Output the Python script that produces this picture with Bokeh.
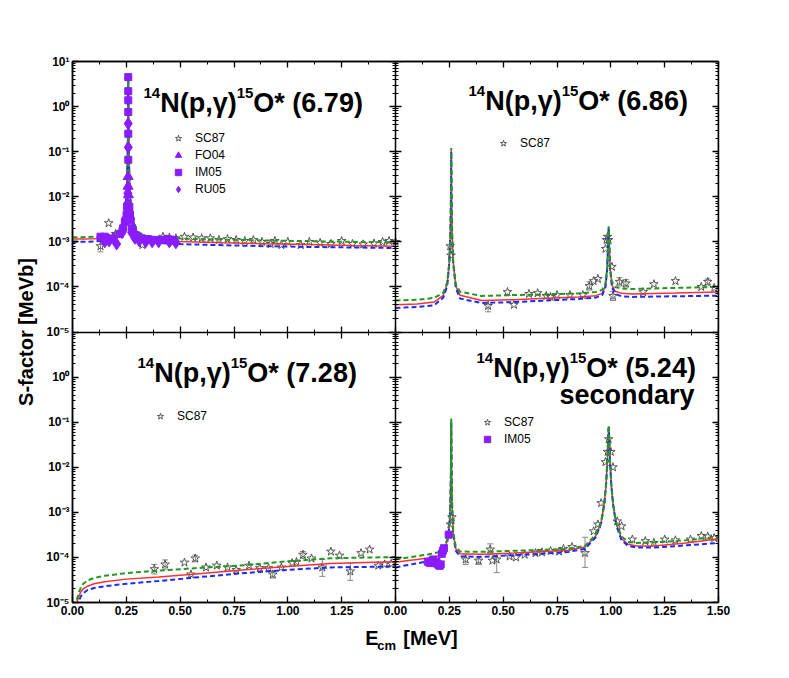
from bokeh.plotting import figure
from bokeh.layouts import column
from bokeh.models import (Range1d, LogScale, LogAxis, LinearAxis, FixedTicker,
                          CustomJSTickFormatter, Label, Legend, LegendItem)
from bokeh.core.properties import value
from bokeh.embed import file_html
from bokeh.resources import INLINE

# ---------------- data ----------------
# Panel A: 14N(p,g)15O* (6.79)
A_E = [0.00, 0.05, 0.10, 0.15, 0.19, 0.21, 0.225, 0.235, 0.243, 0.249, 0.253, 0.2555, 0.2572,
       0.2582, 0.2588, 0.2592, 0.2598, 0.2608, 0.2625, 0.265, 0.269, 0.275, 0.283, 0.295, 0.31,
       0.34, 0.40, 0.50, 0.70, 0.90, 1.10, 1.30, 1.50]
A_red = [1.15e-3, 1.15e-3, 1.17e-3, 1.22e-3, 1.4e-3, 1.65e-3, 2.1e-3, 2.9e-3, 4.6e-3, 9e-3, 2.2e-2,
         6e-2, 0.25, 1.2, 4.8, 4.8, 1.2, 0.25, 6e-2, 2.2e-2, 9e-3, 4.6e-3, 2.8e-3, 1.9e-3, 1.45e-3,
         1.2e-3, 1.08e-3, 1.02e-3, 9.6e-4, 9.1e-4, 8.7e-4, 8.3e-4, 8.0e-4]
A_green = [1.27e-3, 1.27e-3, 1.29e-3, 1.34e-3, 1.52e-3, 1.77e-3, 2.2e-3, 3.0e-3, 4.7e-3, 9.1e-3, 2.2e-2,
           6e-2, 0.25, 1.2, 4.8, 4.8, 1.2, 0.25, 6e-2, 2.2e-2, 9.1e-3, 4.7e-3, 2.95e-3, 2.05e-3, 1.6e-3,
           1.36e-3, 1.24e-3, 1.18e-3, 1.12e-3, 1.07e-3, 1.03e-3, 1.0e-3, 9.8e-4]
A_blue = [1.0e-3, 1.0e-3, 1.02e-3, 1.07e-3, 1.25e-3, 1.5e-3, 1.95e-3, 2.75e-3, 4.4e-3, 8.8e-3, 2.1e-2,
          6e-2, 0.25, 1.2, 4.6, 4.6, 1.2, 0.25, 6e-2, 2.1e-2, 8.8e-3, 4.4e-3, 2.6e-3, 1.75e-3, 1.3e-3,
          1.05e-3, 9.4e-4, 8.9e-4, 8.4e-4, 8.0e-4, 7.7e-4, 7.5e-4, 7.3e-4]
A_sc_e = [0.13, 0.168, 0.20, 0.265, 0.27, 0.28, 0.325, 0.42, 0.45, 0.48, 0.52, 0.56, 0.60, 0.64, 0.68,
          0.72, 0.76, 0.80, 0.84, 0.88, 0.92, 0.94, 0.97, 1.00, 1.06, 1.10, 1.15, 1.20, 1.25, 1.30,
          1.35, 1.40, 1.44, 1.47, 1.50]
A_sc_s = [8e-4, 2.6e-3, 1.5e-3, 4.4e-3, 3e-3, 2e-3, 8.5e-4, 1.3e-3, 1.25e-3, 1.2e-3, 1.3e-3, 1.25e-3,
          1.2e-3, 1.2e-3, 1.1e-3, 1.15e-3, 1.1e-3, 1.05e-3, 1.1e-3, 1.0e-3, 9e-4, 1.05e-3, 8.5e-4,
          1.0e-3, 8.5e-4, 1.0e-3, 9.5e-4, 9e-4, 1.05e-3, 9e-4, 8.8e-4, 9.2e-4, 1.0e-3, 1.05e-3, 1.0e-3]
A_err_e = [0.13]
A_err_lo = [6e-4]
A_err_hi = [1.05e-3]
A_im_e = [0.13, 0.14, 0.15, 0.16, 0.22, 0.235, 0.243, 0.248, 0.251, 0.2535, 0.2589, 0.2589, 0.2590,
          0.2590, 0.2591, 0.2591, 0.264, 0.267, 0.270, 0.275, 0.280, 0.290, 0.300, 0.320, 0.350,
          0.380, 0.410, 0.440, 0.470]
A_im_s = [1.3e-3, 1.25e-3, 1.3e-3, 1.2e-3, 1.5e-3, 2.0e-3, 2.8e-3, 3.0e-3, 4.0e-3, 6.0e-3, 4.5, 2.2,
          1.38, 0.76, 0.25, 0.066, 6.0e-3, 4.0e-3, 3.0e-3, 2.0e-3, 1.7e-3, 1.4e-3, 1.3e-3, 1.2e-3,
          1.15e-3, 1.1e-3, 1.1e-3, 1.15e-3, 1.1e-3]
A_ru_e = [0.15, 0.17, 0.19, 0.205, 0.23, 0.256, 0.257, 0.2589, 0.2591, 0.275, 0.29, 0.31, 0.34, 0.37,
          0.40, 0.45, 0.48]
A_ru_s = [1.0e-3, 1.05e-3, 1.2e-3, 9e-4, 1.6e-3, 7e-3, 1.2e-2, 0.42, 0.125, 1.6e-3, 1.2e-3, 1.05e-3,
          1.0e-3, 1.0e-3, 1.0e-3, 1.0e-3, 9.5e-4]
A_fo_e = [0.2585, 0.2580, 0.2596]
A_fo_s = [0.028, 0.017, 0.011]

# Panel B: 14N(p,g)15O* (6.86)
B_E = [0.00, 0.10, 0.18, 0.222, 0.240, 0.250, 0.255, 0.2575, 0.2585, 0.259, 0.2595, 0.2605, 0.263,
       0.268, 0.280, 0.300, 0.40, 0.55, 0.70, 0.85, 0.93, 0.96, 0.975, 0.983, 0.988, 0.990, 0.992,
       0.997, 1.005, 1.02, 1.05, 1.10, 1.30, 1.50]
B_red = [4.0e-5, 4.2e-5, 4.6e-5, 6.5e-5, 1.15e-4, 3.5e-4, 1.5e-3, 1.0e-2, 5e-2, 0.11, 5e-2, 1.0e-2,
         1.5e-3, 3.5e-4, 1.05e-4, 6.5e-5, 5.0e-5, 5.2e-5, 5.6e-5, 6.0e-5, 6.4e-5, 7.2e-5, 1.05e-4,
         2.5e-4, 1.15e-3, 2.1e-3, 1.15e-3, 2.5e-4, 1.1e-4, 8.0e-5, 7.2e-5, 7.0e-5, 7.3e-5, 7.7e-5]
B_green = [5.0e-5, 5.2e-5, 5.7e-5, 7.5e-5, 1.25e-4, 3.6e-4, 1.5e-3, 1.0e-2, 5e-2, 0.12, 5e-2, 1.0e-2,
           1.5e-3, 3.6e-4, 1.15e-4, 7.8e-5, 6.3e-5, 6.6e-5, 6.8e-5, 7.2e-5, 7.7e-5, 8.6e-5, 1.2e-4,
           2.7e-4, 1.2e-3, 2.2e-3, 1.2e-3, 2.7e-4, 1.3e-4, 1.0e-4, 9.2e-5, 9.0e-5, 9.5e-5, 1.0e-4]
B_blue = [3.4e-5, 3.6e-5, 3.9e-5, 5.8e-5, 1.05e-4, 3.4e-4, 1.45e-3, 1.0e-2, 5e-2, 0.10, 5e-2, 1.0e-2,
          1.45e-3, 3.4e-4, 9.5e-5, 5.5e-5, 4.4e-5, 4.6e-5, 5.0e-5, 5.4e-5, 5.8e-5, 6.6e-5, 9.8e-5,
          2.4e-4, 1.1e-3, 2.0e-3, 1.1e-3, 2.4e-4, 1.0e-4, 7.0e-5, 6.2e-5, 6.0e-5, 6.2e-5, 6.4e-5]
B_sc_e = [0.254, 0.258, 0.43, 0.52, 0.55, 0.62, 0.66, 0.70, 0.72, 0.75, 0.81, 0.87, 0.90, 0.92, 0.94,
          0.975, 0.980, 0.985, 0.990, 1.005, 1.010, 1.04, 1.07, 1.15, 1.20, 1.30, 1.42, 1.45, 1.48]
B_sc_s = [8e-4, 5e-4, 3.8e-5, 7.7e-5, 4e-5, 7e-5, 7.3e-5, 6.3e-5, 6e-5, 6.6e-5, 6.6e-5, 6.6e-5,
          1.05e-4, 1.35e-4, 1.5e-4, 7e-4, 1.1e-3, 1.3e-3, 1.1e-3, 2.8e-4, 6.3e-5, 1.3e-4, 1.2e-4,
          7.7e-5, 1.15e-4, 1.35e-4, 1.0e-4, 1.3e-4, 9.5e-5]
B_err_e = [0.43, 0.90, 1.01, 1.04, 1.07, 1.45]
B_err_lo = [2.8e-5, 8.5e-5, 5.0e-5, 1.05e-4, 1.0e-4, 1.1e-4]
B_err_hi = [5.0e-5, 1.3e-4, 8.0e-5, 1.6e-4, 1.45e-4, 1.5e-4]

# Panel C: 14N(p,g)15O* (7.28)
C_E = [0.02, 0.03, 0.04, 0.05, 0.07, 0.10, 0.15, 0.25, 0.40, 0.60, 0.80, 1.00, 1.20, 1.40, 1.50]
C_red = [1.0e-5, 1.4e-5, 1.75e-5, 2.0e-5, 2.3e-5, 2.6e-5, 2.9e-5, 3.3e-5, 3.7e-5, 4.4e-5, 5.3e-5,
         6.3e-5, 7.3e-5, 7.8e-5, 8.0e-5]
C_green = [1.15e-5, 1.7e-5, 2.2e-5, 2.6e-5, 3.1e-5, 3.5e-5, 3.9e-5, 4.5e-5, 5.1e-5, 5.9e-5, 6.7e-5,
           8.2e-5, 9.6e-5, 1.0e-4, 1.02e-4]
C_blue = [8e-6, 1.1e-5, 1.4e-5, 1.6e-5, 1.9e-5, 2.1e-5, 2.3e-5, 2.6e-5, 3.0e-5, 3.7e-5, 4.5e-5,
          5.3e-5, 6.0e-5, 6.2e-5, 6.4e-5]
C_sc_e = [0.38, 0.43, 0.52, 0.55, 0.57, 0.62, 0.67, 0.72, 0.76, 0.82, 0.87, 0.91, 0.93, 0.97, 1.02,
          1.04, 1.07, 1.11, 1.16, 1.20, 1.24, 1.29, 1.34, 1.38, 1.42, 1.45, 1.48]
C_sc_s = [5.5e-5, 7e-5, 7.7e-5, 4.2e-5, 9.5e-5, 6e-5, 6.6e-5, 6e-5, 5.3e-5, 6.6e-5, 5.8e-5, 5.8e-5,
          4.2e-5, 6e-5, 7.5e-5, 7.9e-5, 1.15e-4, 9.5e-5, 6e-5, 1.35e-4, 1.1e-4, 4.9e-5, 1.25e-4,
          1.5e-4, 6.6e-5, 7e-5, 7.2e-5]
C_err_e = [0.38, 0.43, 0.57, 0.93, 1.07, 1.16, 1.29]
C_err_lo = [4.3e-5, 5.5e-5, 8.0e-5, 3.5e-5, 9.5e-5, 3.8e-5, 3.1e-5]
C_err_hi = [7.0e-5, 8.8e-5, 1.12e-4, 5.0e-5, 1.35e-4, 9.0e-5, 7.5e-5]

# Panel D: 14N(p,g)15O* (5.24) secondary
D_E = [0.00, 0.05, 0.10, 0.15, 0.20, 0.225, 0.240, 0.250, 0.255, 0.2575, 0.2585, 0.259, 0.2595,
       0.2605, 0.263, 0.268, 0.280, 0.30, 0.40, 0.55, 0.70, 0.80, 0.88, 0.93, 0.955, 0.970, 0.978,
       0.984, 0.988, 0.990, 0.992, 0.996, 1.002, 1.010, 1.025, 1.05, 1.08, 1.12, 1.20, 1.35, 1.50]
D_red = [7.8e-5, 8.4e-5, 9.0e-5, 9.7e-5, 1.08e-4, 1.45e-4, 2.3e-4, 5.0e-4, 1.6e-3, 9e-3, 4.5e-2, 0.11,
         4.5e-2, 9e-3, 1.4e-3, 3.4e-4, 1.55e-4, 1.2e-4, 1.17e-4, 1.25e-4, 1.35e-4, 1.45e-4, 1.7e-4,
         3.0e-4, 6.0e-4, 1.6e-3, 4.2e-3, 1.5e-2, 5.3e-2, 8.0e-2, 5.3e-2, 1.5e-2, 4.2e-3, 1.6e-3,
         5.5e-4, 2.6e-4, 1.95e-4, 1.8e-4, 1.8e-4, 2.1e-4, 2.6e-4]
D_green = [9.0e-5, 9.8e-5, 1.07e-4, 1.16e-4, 1.3e-4, 1.65e-4, 2.5e-4, 5.2e-4, 1.6e-3, 9e-3, 4.5e-2, 0.12,
           4.5e-2, 9e-3, 1.45e-3, 3.6e-4, 1.75e-4, 1.35e-4, 1.33e-4, 1.4e-4, 1.48e-4, 1.55e-4, 1.8e-4,
           3.2e-4, 6.3e-4, 1.65e-3, 4.3e-3, 1.5e-2, 5.4e-2, 8.5e-2, 5.4e-2, 1.5e-2, 4.3e-3, 1.65e-3,
           5.8e-4, 2.9e-4, 2.2e-4, 2.1e-4, 2.15e-4, 2.4e-4, 2.85e-4]
D_blue = [6.0e-5, 6.7e-5, 7.4e-5, 8.2e-5, 9.2e-5, 1.25e-4, 2.1e-4, 4.8e-4, 1.55e-3, 9e-3, 4.5e-2, 0.10,
          4.5e-2, 9e-3, 1.35e-3, 3.2e-4, 1.4e-4, 1.05e-4, 1.03e-4, 1.12e-4, 1.22e-4, 1.32e-4, 1.55e-4,
          2.8e-4, 5.8e-4, 1.55e-3, 4.1e-3, 1.45e-2, 5.2e-2, 7.5e-2, 5.2e-2, 1.45e-2, 4.1e-3, 1.55e-3,
          5.2e-4, 2.4e-4, 1.8e-4, 1.65e-4, 1.65e-4, 1.85e-4, 2.1e-4]
D_sc_e = [0.255, 0.262, 0.326, 0.386, 0.44, 0.45, 0.47, 0.53, 0.56, 0.60, 0.65, 0.68, 0.72, 0.76, 0.78,
          0.82, 0.88, 0.92, 0.94, 0.955, 0.975, 0.985, 0.99, 1.00, 1.01, 1.03, 1.05, 1.10, 1.16, 1.20,
          1.25, 1.30, 1.37, 1.42, 1.45, 1.48]
D_sc_s = [5.4e-4, 7.8e-4, 9e-5, 8.5e-5, 1.5e-4, 8.5e-5, 9e-5, 1.05e-4, 1.0e-4, 1.15e-4, 1.25e-4, 1.3e-4,
          1.4e-4, 1.35e-4, 1.55e-4, 1.7e-4, 1.25e-4, 3.8e-4, 5.4e-4, 1.6e-3, 1.3e-2, 2.2e-2, 4.2e-2,
          2.2e-2, 1.0e-2, 6.3e-4, 4.9e-4, 2.5e-4, 2.3e-4, 2.1e-4, 2.5e-4, 2.4e-4, 2.5e-4, 3.0e-4,
          2.9e-4, 2.7e-4]
D_err_e = [0.326, 0.386, 0.44, 0.47, 0.88]
D_err_lo = [7.0e-5, 7.0e-5, 1.15e-4, 4.6e-5, 6.0e-5]
D_err_hi = [1.15e-4, 1.0e-4, 2.0e-4, 1.2e-4, 2.8e-4]
D_im_e = [0.150, 0.160, 0.170, 0.175, 0.180, 0.190, 0.195, 0.200, 0.205, 0.210, 0.215, 0.220, 0.225, 0.247]
D_im_s = [8e-5, 7.5e-5, 8e-5, 9e-5, 7.5e-5, 8e-5, 7.2e-5, 6.8e-5, 6.5e-5, 7e-5, 1.2e-4, 1.4e-4,
          1.6e-4, 3.2e-4]

TITLES = ["(6.79)", "(6.86)", "(7.28)", "(5.24)"]
X_TICKS = [0.00, 0.25, 0.50, 0.75, 1.00, 1.25, 1.50]

# ---------------- layout ----------------
FONT = "Liberation Sans"
FL, FT, FW, FH = 72, 61, 646, 541
BOT = 24
RB = 30
WIDTH = FL + FW + RB
DEC = FH / 12.0
RED, GREEN, BLUE = "#ff3030", "#1f9a1f", "#1a2cff"
PURPLE = "#8a1cff"
GREY = "#888888"


def dx(px):
    return (px - FL) / FW * 3.0


def dy(py):
    return 10 ** (1 - (py - FT) / DEC)


p = figure(frame_width=FW, frame_height=FH, min_border_left=FL, min_border_top=FT,
           min_border_right=RB, min_border_bottom=BOT,
           x_range=Range1d(0, 3), y_range=Range1d(1e-11, 1e1), y_axis_type="log",
           x_axis_location=None, y_axis_location=None,
           toolbar_location=None, output_backend="svg")
p.title.visible = False
p.y_scale = LogScale()
p.extra_x_ranges = {"xr": Range1d(-1.5, 1.5)}
p.extra_y_ranges = {"yb": Range1d(1e-5, 1e7)}
p.extra_y_scales = {"yb": LogScale()}
p.outline_line_color = "black"
p.outline_line_width = 1.5
p.background_fill_color = "white"
p.border_fill_color = "white"
p.xgrid.visible = False
p.ygrid.visible = False

# tick positions covering both stacked panels (top: 1e-5..1e1, bottom shown on the same axis)
maj_y = [10.0 ** k for k in range(-11, 2)]
min_y = [m * 10.0 ** k for k in range(-11, 1) for m in range(2, 10)]
maj_x = [t for t in X_TICKS] + [1.5 + t for t in X_TICKS[1:]]
min_x = [0.125 + 0.25 * i for i in range(12)]


def style(ax, both=False, labels=False):
    ax.axis_line_color = "black"
    ax.axis_line_width = 1.5
    ax.major_tick_line_color = "black"
    ax.major_tick_line_width = 1.3
    ax.minor_tick_line_color = "black"
    ax.minor_tick_line_width = 1
    ax.major_tick_in = 6
    ax.major_tick_out = 6 if both else 0
    ax.minor_tick_in = 3
    ax.minor_tick_out = 3 if both else 0
    ax.major_label_text_font = FONT
    ax.major_label_text_font_style = "bold"
    ax.major_label_text_color = "black"
    if labels:
        ax.major_label_text_font_size = "12px"
        ax.major_label_standoff = 3
    else:
        ax.major_label_text_font_size = "0px"
        ax.major_label_standoff = 0
        ax.formatter = CustomJSTickFormatter(code="return ''")


ax = LogAxis(ticker=FixedTicker(ticks=maj_y, minor_ticks=min_y),
             formatter=CustomJSTickFormatter(code="""
const sup = {'0':'\u2070','1':'\u00b9','2':'\u00b2','3':'\u00b3','4':'\u2074','5':'\u2075',
             '6':'\u2076','7':'\u2077','8':'\u2078','9':'\u2079','-':'\u207b'};
let e = Math.round(Math.log10(tick));
if (e < -5) { e = e + 6; }
return '10' + String(e).split('').map(c => sup[c]).join('');"""),
             axis_label="S-factor [MeVb]")
style(ax, labels=True)
ax.axis_label_text_font = FONT
ax.axis_label_text_font_size = "20px"
ax.axis_label_text_font_style = "bold"
ax.axis_label_text_color = "black"
ax.axis_label_standoff = 6
p.add_layout(ax, "left")
# middle vertical divider and right edge
ax = LogAxis(fixed_location=1.5, ticker=FixedTicker(ticks=maj_y, minor_ticks=min_y))
style(ax, both=True)
p.add_layout(ax, "right")
ax = LogAxis(fixed_location=3, ticker=FixedTicker(ticks=maj_y, minor_ticks=min_y))
style(ax)
p.add_layout(ax, "right")
# x axes
ax = LinearAxis(ticker=FixedTicker(ticks=maj_x, minor_ticks=min_x),
                formatter=CustomJSTickFormatter(code="""
let t = tick;
if (t > 1.5 + 1e-6) { t = t - 1.5 } else if (Math.abs(t - 1.5) < 1e-6) { t = 0 }
return t.toFixed(2);"""))
style(ax, labels=True)
p.add_layout(ax, "below")
ax = LinearAxis(ticker=FixedTicker(ticks=maj_x, minor_ticks=min_x))
style(ax)
p.add_layout(ax, "above")
ax = LinearAxis(ticker=FixedTicker(ticks=maj_x, minor_ticks=min_x), fixed_location=1e-5)
style(ax, both=True)
p.add_layout(ax, "below")

# ---------------- glyphs ----------------
PANELS = [
    ("default", "default", A_E, A_red, A_green, A_blue, A_sc_e, A_sc_s, A_err_e, A_err_lo, A_err_hi),
    ("xr", "default", B_E, B_red, B_green, B_blue, B_sc_e, B_sc_s, B_err_e, B_err_lo, B_err_hi),
    ("default", "yb", C_E, C_red, C_green, C_blue, C_sc_e, C_sc_s, C_err_e, C_err_lo, C_err_hi),
    ("xr", "yb", D_E, D_red, D_green, D_blue, D_sc_e, D_sc_s, D_err_e, D_err_lo, D_err_hi),
]
star_r = []
for xn, yn, E, r, g, b, se, ss, ee, elo, ehi in PANELS:
    kw = dict(x_range_name=xn, y_range_name=yn)
    p.segment(x0=ee, y0=elo, x1=ee, y1=ehi, line_color=GREY, line_width=1, **kw)
    p.scatter(ee + ee, elo + ehi, marker="dash", size=6, line_color=GREY, line_width=1, **kw)
    sr = p.scatter(se, ss, marker="star", size=9, fill_color="white", fill_alpha=0.0,
                   line_color="#555555", line_width=1, **kw)
    star_r.append(sr)
    p.line(E, r, line_color=RED, line_width=1.5, **kw)
    p.line(E, b, line_color=BLUE, line_width=2, line_dash="5 3", **kw)
    p.line(E, g, line_color=GREEN, line_width=2, line_dash="5 3", **kw)

kwA = dict(x_range_name="default", y_range_name="default")
r_ru = p.scatter(A_ru_e, A_ru_s, marker="diamond", size=12, fill_color=PURPLE,
                 line_color=PURPLE, **kwA)
r_im = p.scatter(A_im_e, A_im_s, marker="square", size=7, fill_color=PURPLE, line_color=PURPLE, **kwA)
r_fo = p.scatter(A_fo_e, A_fo_s, marker="triangle", size=10, fill_color=PURPLE, line_color=PURPLE, **kwA)
r_imD = p.scatter(D_im_e, D_im_s, marker="square", size=7, fill_color=PURPLE, line_color=PURPLE,
                  x_range_name="xr", y_range_name="yb")


def legend(items, left_px, top_px):
    n = len(items)
    bottom_px = top_px + n * 16 + (n - 1) * 1
    lg = Legend(items=[LegendItem(label=t, renderers=[rr]) for t, rr in items],
                location=(left_px - FL, FT + FH - bottom_px),
                background_fill_alpha=0.0, border_line_color=None,
                label_text_font=FONT, label_text_font_size="12px", label_text_color="black",
                glyph_width=16, glyph_height=16, label_height=16, spacing=1,
                padding=0, margin=0, label_standoff=9)
    p.add_layout(lg, "center")


legend([("SC87", star_r[0]), ("FO04", r_fo), ("IM05", r_im), ("RU05", r_ru)], 170, 130)
legend([("SC87", star_r[1])], 495, 135)
legend([("SC87", star_r[2])], 152, 408)
legend([("SC87", star_r[3]), ("IM05", r_imD)], 479, 414)

# ---------------- texts ----------------
W = {'1': .556, '4': .556, '5': .556, 'N': .722, '(': .333, 'p': .611, ',': .278, 'γ': .556,
     ')': .333, 'O': .778, '*': .389, ' ': .278, '6': .556, '.': .278, '7': .556, '9': .556,
     '8': .556, '2': .556, 'E': .667, 'c': .556, 'm': .889, '[': .333, ']': .333, 'M': .833,
     'e': .556, 'V': .667}


def tw(s, size):
    return sum(W.get(ch, 0.6) for ch in s) * size


def runs(px, base, items):
    x = px
    for text, size, rise in items:
        p.add_layout(Label(x=dx(x), y=dy(base - rise), text=text, text_font=FONT,
                           text_font_size=f"{size}px", text_font_style="bold",
                           text_baseline="alphabetic", text_align="left", text_color="black"))
        x += tw(text, size)


BIG, SUP, RISE = 27, 15, 10
for (px, base), t in zip([(143, 102), (468, 100), (137, 372), (476, 367)], TITLES):
    runs(px, base, [("14", SUP, RISE), ("N(p,γ)", BIG, 0), ("15", SUP, RISE), ("O* " + t, BIG, 0)])
runs(559, 394, [("secondary", BIG, 0)])

# x-axis title with subscript, drawn in a strip under the plot (pixel coordinates)
TOP_X = FT + FH + BOT
XH = 38
xl = figure(width=WIDTH, height=XH, x_range=Range1d(0, WIDTH), y_range=Range1d(XH, 0),
            min_border=0, x_axis_location=None, y_axis_location=None,
            toolbar_location=None, output_backend="svg")
xl.title.visible = False
xl.outline_line_color = None
xl.xgrid.visible = False
xl.ygrid.visible = False
for txt, px, py, size in [("E", 339, 637, 20), ("cm", 353, 645, 13), ("[MeV]", 383, 637, 20)]:
    xl.text(x=[px], y=[py - TOP_X], text=[txt], text_font=value(FONT), text_font_size=f"{size}px",
            text_font_style="bold", text_baseline="alphabetic", text_align="left", text_color="black")

open("out.html", "w").write(file_html(column(p, xl), INLINE))
